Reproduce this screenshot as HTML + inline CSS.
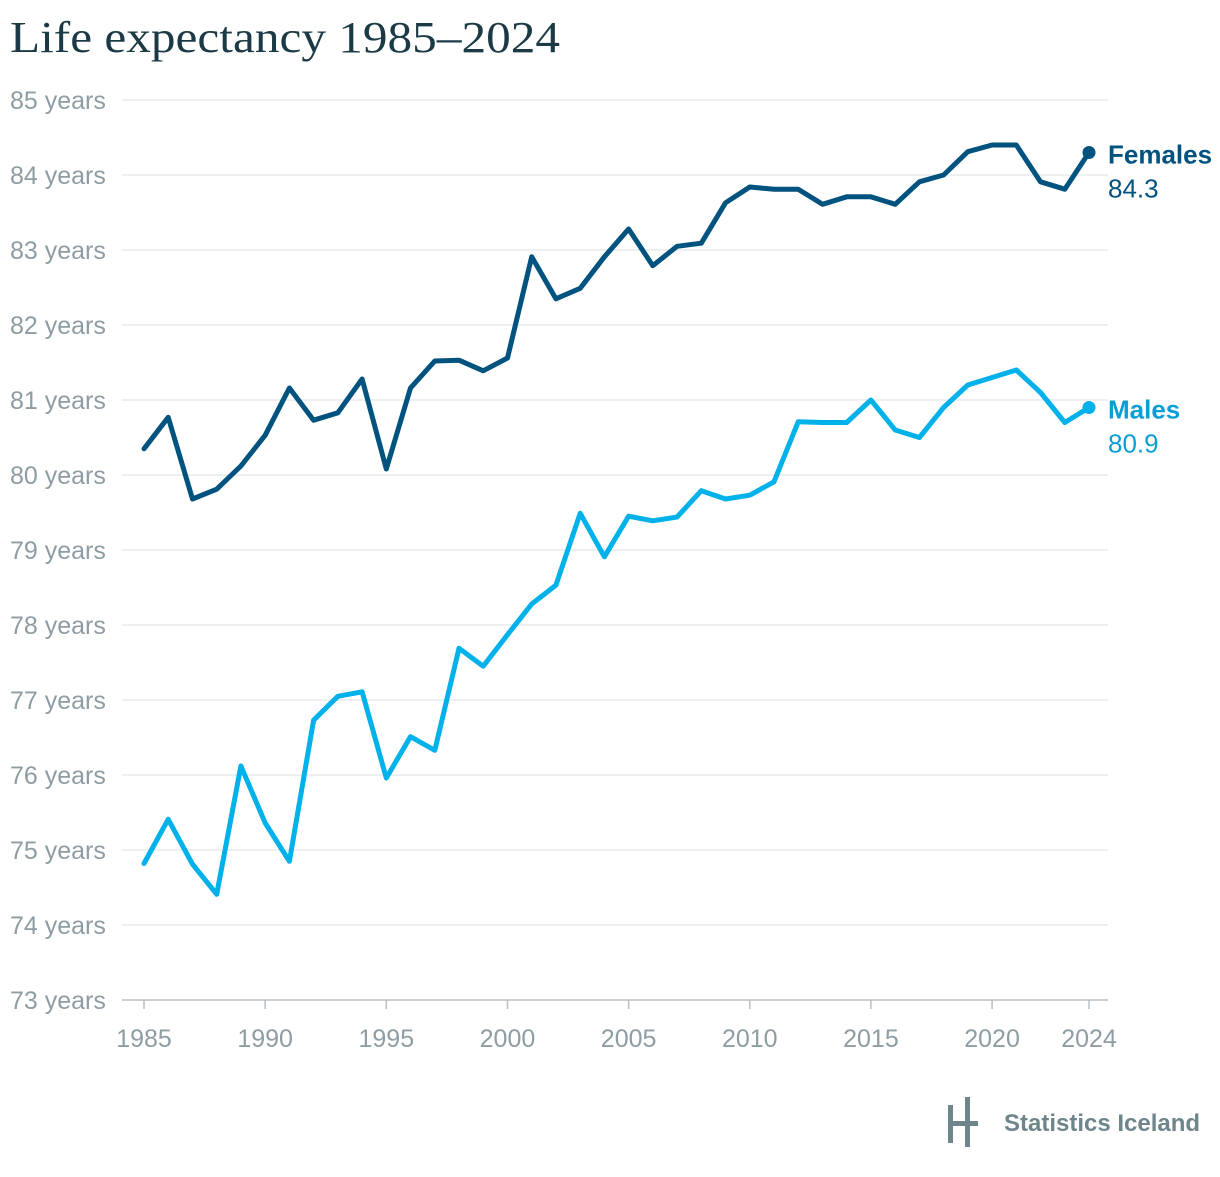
<!DOCTYPE html>
<html><head><meta charset="utf-8"><style>
html,body{margin:0;padding:0;background:#fff;}
svg text{font-family:"Liberation Sans",sans-serif;}
</style></head><body>
<svg id="chart" width="1220" height="1172" viewBox="0 0 1220 1172" xmlns="http://www.w3.org/2000/svg">
<text x="10" y="52" font-size="44" fill="#1b3a45" textLength="550" lengthAdjust="spacingAndGlyphs" style="font-family:'Liberation Serif',serif">Life expectancy 1985–2024</text>
<g id="grid"></g><g id="yticks"></g><g id="xticks"></g><g id="series"></g>
<g>
<rect x="948" y="1105" width="5" height="38" fill="#6f858c"/>
<rect x="965" y="1097" width="5" height="50" fill="#6f858c"/>
<rect x="948" y="1121" width="30" height="5" fill="#6f858c"/>
<text x="1004" y="1131" font-size="24" font-weight="bold" fill="#6f858c">Statistics Iceland</text>
</g>
</svg>
<script>
const years = [];
for (let y = 1985; y <= 2024; y++) years.push(y);
const females = [80.35,80.77,79.68,79.81,80.12,80.53,81.16,80.73,80.83,81.28,80.08,81.16,81.52,81.53,81.39,81.56,82.91,82.35,82.49,82.91,83.28,82.79,83.05,83.09,83.63,83.84,83.81,83.81,83.61,83.71,83.71,83.61,83.91,84.0,84.31,84.4,84.4,83.91,83.81,84.3];
const males = [74.82,75.41,74.81,74.41,76.12,75.36,74.85,76.73,77.05,77.11,75.96,76.51,76.33,77.69,77.45,77.87,78.28,78.53,79.49,78.91,79.45,79.39,79.44,79.79,79.68,79.73,79.91,80.71,80.7,80.7,81.0,80.6,80.5,80.9,81.2,81.3,81.4,81.1,80.7,80.9];
const yTicks = [73,74,75,76,77,78,79,80,81,82,83,84,85];
const xTicks = [1985,1990,1995,2000,2005,2010,2015,2020,2024];
const NS = "http://www.w3.org/2000/svg";
const xs = v => 144 + (v - 1985) * (1089 - 144) / 39;
const ys = v => 1000 - (v - 73) * 75;
function mk(tag, attrs, parent, txt){const e=document.createElementNS(NS,tag);for(const k in attrs)e.setAttribute(k,attrs[k]);if(txt!==undefined)e.textContent=txt;parent.appendChild(e);return e;}
const grid=document.getElementById('grid'), yt=document.getElementById('yticks'), xt=document.getElementById('xticks'), ser=document.getElementById('series');
yTicks.forEach(v=>{
  const l=mk('line',{x1:122,x2:1108,y1:ys(v),y2:ys(v),stroke:v===73?'#b8c0c4':'#e2e5e7','stroke-width':v===73?1.5:1.2},grid);
  
  
  const t=mk('text',{x:10,y:ys(v)+9,'font-size':25,fill:'#8e9ca3'},yt,v+' years');
  
  
});
xTicks.forEach(v=>{
  mk('line',{x1:xs(v),x2:xs(v),y1:1000,y2:1009,stroke:'#b8c0c4','stroke-width':1.5},xt);
  const t=mk('text',{x:xs(v),y:1047,'font-size':25,fill:'#8e9ca3','text-anchor':'middle'},xt,String(v));
  
  
});
function line(data,color,textColor,name,label){
  const d=data.map((v,i)=>(i?'L':'M')+xs(years[i]).toFixed(1)+','+ys(v).toFixed(1)).join('');
  const p=mk('path',{d:d,fill:'none',stroke:color,'stroke-width':5,'stroke-linejoin':'round','stroke-linecap':'round'},ser);
  
  
  const last=data[data.length-1], lx=xs(years[years.length-1]), ly=ys(last);
  const c=mk('circle',{cx:lx,cy:ly,r:6.5,fill:color},ser);
  
  
  const t1=mk('text',{x:1108,y:ly+11,'font-size':26,'font-weight':'bold',fill:textColor},ser,label);
  
  
  const t2=mk('text',{x:1108,y:ly+45,'font-size':26,fill:textColor},ser,last.toFixed(1));
  
  
}
line(females,'#00527f','#00527f','females','Females');
line(males,'#00b1ea','#0a9ed6','males','Males');
</script>
</body></html>
